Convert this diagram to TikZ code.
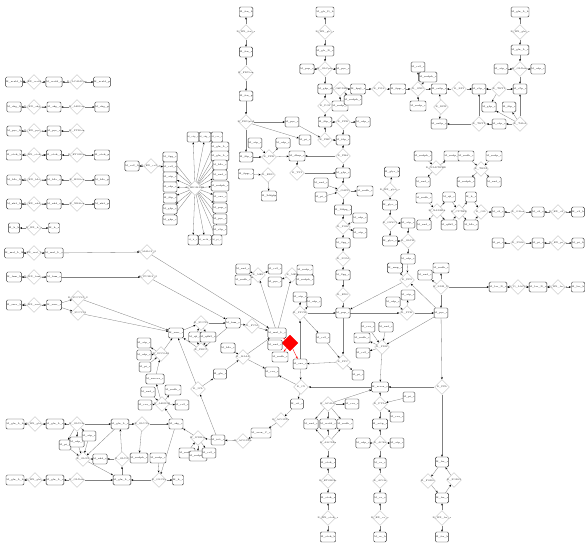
\documentclass[tikz,border=0pt]{standalone}
\usetikzlibrary{shapes.geometric,arrows.meta}
\pgfdeclarelayer{bg}
\pgfsetlayers{bg,main}
\tikzset{
  lbl/.style={font=\fontsize{2.3}{2.6}\selectfont, inner sep=0pt, text=black!85},
  met/.style={draw=black!80, rounded corners=1.3pt, minimum width=11pt, minimum height=10pt, inner sep=0.3pt, line width=0.45pt, fill=white, font=\fontsize{2.3}{2.6}\selectfont},
  sm/.style={minimum width=10pt, font=\fontsize{1.9}{2.2}\selectfont},
  rxn/.style={diamond, draw=black!25, minimum width=15pt, minimum height=15pt, inner sep=0pt, line width=0.35pt, fill=white},
  hot/.style={diamond, draw=red, fill=red, minimum width=16pt, minimum height=16pt, inner sep=0pt},
  e/.style={draw=black!50, line width=0.3pt, -{Stealth[length=2.2pt,width=1.8pt,black]}},
  er/.style={draw=red, line width=0.35pt, -{Stealth[length=2.2pt,width=1.8pt,red]}},
}
\newcommand\Mx[3]{\node[met] (#1) at (#2) {#3};}
\newcommand\Ms[3]{\node[met,sm] (#1) at (#2) {#3};}
\newcommand\Rx[3]{\node[rxn,label={[lbl]center:#3}] (#1) at (#2) {};}
\newcommand\Ed[2]{\draw[e] (#1) -- (#2);}
\newcommand\Er[2]{\draw[er] (#1) -- (#2);}
\begin{document}
\catcode`\_=12
\begin{tikzpicture}[x=1pt,y=-1pt]
\useasboundingbox (0,0) rectangle (586,550);
% ---------- left exchange rows
\Mx{a1}{14,82}{M_acald_b}\Rx{a2}{34,82}{R_EX_acald_e}\Mx{a3}{54,82}{M_acald_e}\Rx{a4}{77,82}{R_ACALDtex}\Mx{a5}{102,82}{M_acald_p}
\Mx{b1}{14,107}{M_akg_b}\Rx{b2}{34,107}{R_EX_akg_e}\Mx{b3}{54,107}{M_akg_e}\Rx{b4}{77,107}{R_AKGtex}\Mx{b5}{102,107}{M_akg_p}
\Mx{c1}{14,131}{M_pyr_b}\Rx{c2}{34,131}{R_EX_pyr_e}\Mx{c3}{54,131}{M_pyr_e}\Rx{c4}{77,131}{R_PYRtex}
\Mx{d1}{14,155}{M_etoh_b}\Rx{d2}{34,155}{R_EX_etoh_e}\Mx{d3}{54,155}{M_etoh_e}\Rx{d4}{77,155}{R_ETOHtex}\Mx{d5}{102,155}{M_etoh_p}
\Mx{f1}{14,180}{M_h2o_b}\Rx{f2}{34,180}{R_EX_h2o_e}\Mx{f3}{54,180}{M_h2o_e}\Rx{f4}{77,180}{R_H2Otex}\Mx{f5}{102,180}{M_h2o_p}
\Mx{g1}{14,204}{M_nh4_b}\Rx{g2}{34,204}{R_EX_nh4_e}\Mx{g3}{54,204}{M_nh4_e}\Rx{g4}{77,204}{R_NH4tex}\Mx{g5}{102,204}{M_nh4_p}
\Mx{h1}{14,228}{M_h_b}\Rx{h2}{34,228}{R_EX_h_e}\Mx{h3}{54,228}{M_h_e}
\Mx{i1}{14,253}{M_mal_L_b}\Rx{i2}{34,253}{R_EX_mal_L_e}\Mx{i3}{54,253}{M_mal_L_e}\Rx{i4}{147,252}{R_MALt2_2}
\Mx{j1}{14,277}{M_fum_b}\Rx{j2}{34,277}{R_EX_fum_e}\Mx{j3}{54,277}{M_fum_e}\Rx{j4}{148,277}{R_FUMt2_2}
\Mx{k1}{14,305}{M_succ_b}\Rx{k2}{34,305}{R_EX_succ_e}\Mx{k3}{54,305}{M_succ_e}\Rx{k4}{78,298}{R_SUCCt2_2}\Rx{k5}{78,313}{R_SUCCt3}
\Mx{co1}{132,166}{M_co2_b}\Rx{co2}{151,166}{R_EX_co2_e}
% ---------- biomass hub
\Rx{hub}{195,188}{R_BIOMASS}
\Mx{hl1}{170,157}{M_3pg_c}\Mx{hl2}{170,167}{M_co2_e}\Mx{hl3}{170,177}{M_atp_c}\Mx{hl4}{170,187}{M_e4p_c}
\Mx{hl5}{170,198}{M_f6p_c}\Mx{hl6}{170,209}{M_g3p_c}\Mx{hl7}{170,220}{M_g6p_c}
\Mx{hr1}{220,147}{M_gln_L_c}\Mx{hr2}{220,156}{M_glu_L_c}\Mx{hr3}{220,165}{M_h2o_c}\Mx{hr4}{220,175}{M_nad_c}
\Mx{hr5}{220,186}{M_nadph_c}\Mx{hr6}{220,197}{M_oaa_c}\Mx{hr7}{220,208}{M_pep_c}\Mx{hr8}{220,219}{M_pyr_c}\Mx{hr9}{220,230}{M_r5p_c}
\Ms{ht1}{193,137}{M_adp_c}\Ms{ht2}{205,137}{M_akg_c}\Ms{ht3}{217,137}{M_coa_c}
\Ms{hb1}{193,240}{M_h_c}\Ms{hb2}{205,240}{M_nadh_c}\Ms{hb3}{217,240}{M_pi_c}
% ---------- column x=246
\Mx{t1}{246,12}{M_fru_b}\Rx{t2}{246,32}{R_EX_fru_e}\Mx{t3}{246,52}{M_fru_e}\Rx{t4}{246,73}{R_FRUtex}
\Mx{t5}{246,96}{M_fru_p}\Rx{t6}{246,122}{R_FRUpts2}\Mx{t6a}{292,122}{M_pyr_c}
\Mx{t7}{246,157}{M_f6p_c}\Rx{t8}{269,157}{R_PFK}\Mx{t8a}{255,143}{M_atp_c}\Mx{t8b}{283,143}{M_adp_c}
\Mx{dhap}{297,156}{M_dhap_c}\Mx{t10}{246,174}{M_6pgc_c}\Rx{t11}{268,175}{R_EDD}\Mx{t12}{269,196}{M_2ddg6p}
\Rx{tpi}{297,173}{R_TPI}
% ---------- column x=325
\Mx{p1}{325,12}{M_glc_D_b}\Rx{p2}{325,32}{R_EX_glc_e}\Mx{p3}{325,51}{M_glc_D_e}\Rx{p4}{325,69}{R_GLCpts}
\Mx{p4a}{307,69}{M_pep_c}\Mx{p4b}{343,69}{M_pyr_c}
\Mx{g6p}{325,89}{M_g6p_c}\Rx{g6pdh}{340,89}{R_G6PDH2r}\Mx{nadpa}{340,106}{M_nadp_c}\Mx{nadpha}{353,100}{M_nadph_c}
\Mx{pgla}{358,89}{M_6pgl_c}\Rx{pgl}{379,89}{R_PGL}\Mx{pgcb}{398,89}{M_6pgc_c}\Rx{gnd}{418,89}{R_GND}
\Mx{co2a}{418,67}{M_co2_c}\Mx{nadphb}{428,77}{M_nadph_c}\Mx{nadpb}{418,106}{M_nadp_c}
\Rx{pgi}{325,106}{R_PGI}\Mx{f6p}{325,122}{M_f6p_c}\Rx{pfk}{343,122}{R_PFK}\Mx{adpa}{363,122}{M_adp_c}
\Mx{fdp}{343,140}{M_fdp_c}\Rx{fbp}{325,140}{R_FBP}\Mx{pia}{305,140}{M_pi_c}
\Rx{fba}{343,156}{R_FBA}\Mx{g3p}{343,173}{M_g3p_c}
\Rx{gapd}{343,191}{R_GAPD}\Mx{nadc}{321,183}{M_nad_c}\Mx{pic}{321,197}{M_pi_c}\Mx{nadhc}{365,191}{M_nadh_c}
\Mx{dpg}{343,210}{M_13dpg_c}\Rx{pgk}{343,227}{R_PGK}\Mx{adpb}{360,218}{M_adp_c}\Mx{atpb}{360,233}{M_atp_c}
\Mx{pg3}{343,243}{M_3pg_c}\Rx{pgm}{343,259}{R_PGM}\Mx{pg2}{343,275}{M_2pg_c}\Rx{eno}{343,295}{R_ENO}\Mx{pep}{343,313}{M_pep_c}
% ---------- right top
\Mx{q1}{520,12}{M_gln_L_b}\Rx{q2}{520,32}{R_EX_gln_e}\Mx{q3}{520,50}{M_gln_L_e}\Rx{q4}{520,69}{R_GLNabc}
\Mx{q4a}{501,69}{M_atp_c}\Mx{q4b}{538,69}{M_adp_c}\Mx{q5}{520,89}{M_s7p_c}
\Mx{ru5p}{439,89}{M_ru5p_c}\Rx{rpi}{459,89}{R_RPI}\Mx{r5p}{479,89}{M_r5p_c}\Rx{tkt1}{499,89}{R_TKT1}
\Rx{rpe}{441,107}{R_RPE}\Mx{xu5p}{439,124}{M_xu5p_c}\Rx{tkt2}{479,124}{R_TKT2}\Mx{e4p}{499,124}{M_e4p_c}\Rx{tala}{520,124}{R_TALA}
\Mx{g3pb}{489,107}{M_g3p_c}\Mx{f6pb}{509,107}{M_f6p_c}
% ---------- right cluster
\Mx{rc1}{423,156}{M_nadph_c}\Mx{rc2}{423,182}{M_nad_c}\Rx{nadtr}{436,168}{R_NADTRHD}\Mx{rc3}{452,156}{M_nadp_c}
\Mx{rc4}{466,156}{M_nadh_c}\Mx{rc5}{494,156}{M_nadp_c}\Rx{thd}{481,169}{R_THD2}\Mx{rc6}{466,182}{M_nadph_c}\Mx{rc7}{494,182}{M_nad_c}
\Mx{rd1}{424,198}{M_nadh_c}\Mx{rd2}{424,225}{M_nad_c}\Rx{nad16}{437,211}{R_NADH16}
\Mx{rd3}{449,197}{M_q8_c}\Mx{rd4}{449,225}{M_q8h2_c}\Rx{rdx}{459,212}{R_CYTBD}
\Mx{rd5}{471,197}{M_h_c}\Mx{rd6}{471,225}{M_h2o_c}\Rx{rdy}{481,212}{R_O2t}
% ---------- right rows
\Mx{o2c}{498,212}{M_o2_c}\Rx{o2t}{518,212}{R_O2tex}\Mx{o2e}{538,212}{M_o2_e}\Rx{exo2}{558,212}{R_EX_o2_e}\Mx{o2b}{578,212}{M_o2_b}
\Mx{pic2}{498,243}{M_pi_c}\Rx{pit}{518,243}{R_PIt2r}\Mx{pie}{538,243}{M_pi_e}\Rx{expi}{558,243}{R_EX_pi_e}\Mx{pib}{578,243}{M_pi_b}
\Mx{lacc}{498,287}{M_lac_D_c}\Rx{lact}{518,287}{R_D_LACt2}\Mx{lace}{538,287}{M_lac_D_e}\Rx{exlac}{558,287}{R_EX_lac_e}\Mx{lacb}{578,287}{M_lac_b}
\Rx{ldh}{441,287}{R_LDH_D}\Mx{nadhd}{441,268}{M_nadh_c}\Mx{pyr}{441,313}{M_pyr_c}
% ---------- middle column x=390..408
\Mx{m1}{392,172}{M_glyc_b}\Rx{m2}{390,190}{R_EX_glyc_e}\Mx{m3}{390,205}{M_glyc_e}\Rx{m4}{390,223}{R_GLYCt}
\Mx{m5}{408,223}{M_atp_c}\Mx{m6}{390,241}{M_glyc_c}\Rx{m7}{408,241}{R_GLYK}\Mx{m8}{408,259}{M_adp_c}
\Rx{pps}{407,280}{R_PPS}\Mx{ampa}{395,268}{M_amp_c}\Mx{nadd}{425,275}{M_nad_c}
\Rx{pyk}{407,313}{R_PYK}\Mx{adpc}{393,302}{M_adp_c}\Mx{atpc}{408,295}{M_atp_c}
% ---------- PDH, PFL, acetate, ethanol
\Rx{pdh}{382,347}{R_PDH}\Mx{coa6}{368,327}{M_coa_c}\Mx{nad6}{386,327}{M_nad_c}\Mx{nadh6}{362,338}{M_nadh_c}\Mx{co26}{363,353}{M_co2_c}
\Rx{pfl}{442,387}{R_PFL}\Mx{accoa}{380,387}{M_accoa_c}
\Mx{forc}{442,462}{M_for_c}\Rx{fort1}{428,481}{R_FORti}\Rx{fort2}{454,480}{R_FORt2}\Mx{fore}{442,498}{M_for_e}\Rx{exfor}{442,518}{R_EX_for_e}\Mx{forb}{442,537}{M_for_b}
\Rx{pta}{380,404}{R_PTAr}\Mx{pi4}{409,397}{M_pi_c}\Mx{coa4}{397,417}{M_coa_c}\Mx{actp}{380,424}{M_actp_c}
\Rx{ack}{380,443}{R_ACKr}\Mx{adp4}{363,443}{M_adp_c}\Mx{atp4}{397,443}{M_atp_c}\Mx{acc}{380,463}{M_ac_c}
\Rx{act}{380,481}{R_ACt2r}\Mx{ace}{380,498}{M_ac_e}\Rx{exac}{380,518}{R_EX_ac_e}\Mx{acb}{380,537}{M_ac_b}
\Rx{acald}{328,404}{R_ACALD}\Mx{coa5}{352,404}{M_coa_c}\Mx{nad5}{311,424}{M_nad_c}\Mx{acaldc}{328,424}{M_acald_c}\Mx{nadh5}{345,424}{M_nadh_c}
\Rx{alcd}{328,443}{R_ALCD2x}\Mx{etohc}{328,463}{M_etoh_c}\Rx{etoht}{328,481}{R_ETOHt2r}\Mx{etohe}{328,498}{M_etoh_e}\Rx{exetoh}{328,518}{R_EX_etoh_e}\Mx{etohb}{328,537}{M_etoh_b}
% ---------- PPCK, PPC, TCA
\Rx{ppck}{300,313}{R_PPCK}\Mx{atp8}{300,297}{M_atp_c}\Mx{adp8}{314,302}{M_adp_c}\Mx{co28}{323,338}{M_co2_c}
\Rx{ppc}{343,362}{R_PPC}\Mx{pi9}{358,375}{M_pi_c}
\Mx{oaa}{300,364}{M_oaa_c}\Rx{cs}{301,387}{R_CS}\Mx{cit}{297,404}{M_cit_c}\Rx{acona}{281,420}{R_ACONTa}
\Mx{acon}{261,433}{M_acon_C_c}\Rx{acontb}{243,441}{R_ACONTb}\Mx{icit}{218,440}{M_icit_c}
\Rx{icd}{198,438}{R_ICDHyr}\Mx{nadp10}{187,453}{M_nadp_c}\Mx{nadph10}{198,456}{M_nadph_c}\Mx{co210}{209,453}{M_co2_c}
\Mx{akg}{176,424}{M_akg_c}\Rx{akgdh}{162,404}{R_AKGDH}\Mx{nad11}{148,392}{M_nad_c}\Mx{coa11}{145,405}{M_coa_c}
\Mx{nadh11}{173,390}{M_nadh_c}\Mx{co211}{182,405}{M_co2_c}\Mx{succoa}{155,379}{M_succoa_c}
\Rx{sucoas}{161,354}{R_SUCOAS}\Mx{atp12}{144,343}{M_atp_c}\Mx{adp12}{144,355}{M_adp_c}\Mx{pi12}{145,367}{M_pi_c}
\Mx{succ}{176,333}{M_succ_c}\Rx{sucdi}{201,323}{R_SUCDi}\Rx{frd}{201,350}{R_FRD7}\Mx{q8}{195,337}{M_q8_c}\Mx{q8h2}{208,337}{M_q8h2_c}
\Mx{fum}{233,323}{M_fum_c}\Rx{fumr}{252,326}{R_FUM}\Mx{mal}{277,333}{M_mal_L_c}
\node[hot] (mdh) at (290,343) {};
\Mx{nad13}{275,345}{M_nad_c}\Mx{nadh13}{280,357}{M_nadh_c}
\Mx{h2o14}{228,348}{M_h2o_c}\Rx{mals}{243,357}{R_MALS}\Mx{coa14}{272,372}{M_coa_c}
\Rx{icl}{198,389}{R_ICL}\Mx{glx}{220,374}{M_glx_c}
\Rx{me1}{258,275}{R_ME1}\Rx{me2}{292,275}{R_ME2}\Mx{nad15}{243,269}{M_nad_c}\Mx{nadh15}{243,280}{M_nadh_c}
\Mx{co215}{275,269}{M_co2_c}\Mx{pyr15}{275,282}{M_pyr_c}\Mx{nadp15}{305,270}{M_nadp_c}\Mx{nadph15}{305,280}{M_nadph_c}
% ---------- lower left
\Mx{u1}{15,424}{M_glu_L_b}\Rx{u2}{35,424}{R_EX_glu_e}\Mx{u3}{55,424}{M_glu_L_e}\Rx{u4}{77,424}{R_GLUt2r}\Mx{u5}{120,424}{M_glu_L_c}\Rx{u6}{142,424}{R_GLUDy}
\Mx{v1}{15,480}{M_gln_L_b}\Rx{v2}{35,480}{R_EX_gln_e}\Mx{v3}{55,480}{M_gln_L_e}\Rx{v4}{77,480}{R_GLNabc}\Mx{v5}{122,480}{M_gln_L_c}
\Mx{w1}{65,445}{M_pi_c}\Mx{w2}{77,442}{M_adp_c}\Mx{w3}{89,436}{M_atp_c}
\Rx{w4}{83,459}{R_GLNS}\Mx{w5}{100,459}{M_nh4_c}\Rx{w6}{122,459}{R_GLUN}
\Mx{w7}{139,458}{M_nadph_c}\Mx{w8}{158,458}{M_nadp_c}\Rx{w9}{159,480}{R_GLUSy}\Mx{w10}{178,480}{M_h_c}
\begin{pgfonlayer}{bg}
\fill[white] (0,0) rectangle (586,550);
% left rows
\Ed{a2}{a1}\Ed{a2}{a3}\Ed{a4}{a3}\Ed{a4}{a5}
\Ed{b2}{b1}\Ed{b2}{b3}\Ed{b4}{b3}\Ed{b4}{b5}
\Ed{c2}{c1}\Ed{c2}{c3}\Ed{c4}{c3}
\Ed{d2}{d1}\Ed{d2}{d3}\Ed{d4}{d3}\Ed{d4}{d5}
\Ed{f2}{f1}\Ed{f2}{f3}\Ed{f4}{f3}\Ed{f4}{f5}
\Ed{g2}{g1}\Ed{g2}{g3}\Ed{g4}{g3}\Ed{g4}{g5}
\Ed{h2}{h1}\Ed{h2}{h3}
\Ed{i2}{i1}\Ed{i2}{i3}\Ed{i3}{i4}\Ed{i4}{mal}
\Ed{j2}{j1}\Ed{j2}{j3}\Ed{j3}{j4}\Ed{j4}{fum}
\Ed{k2}{k1}\Ed{k2}{k3}\Ed{k3}{k4}\Ed{k3}{k5}\Ed{k4}{succ}\Ed{k5}{succ}
\Ed{co2}{co1}\Ed{co2}{hl2}
% hub
\foreach \n in {hl1,hl2,hl3,hl4,hl5,hl6,hl7,hr1,hr2,hr3,hr4,hr5,hr6,hr7,hr8,hr9,ht1,ht2,ht3,hb1,hb2,hb3} {\draw[e] (hub) -- (\n);}
% x=246
\Ed{t2}{t1}\Ed{t2}{t3}\Ed{t4}{t3}\Ed{t4}{t5}\Ed{t5}{t6}\Ed{t6}{t7}\Ed{t6}{t6a}\Ed{t6}{pia}
\Ed{t7}{t8}\Ed{t8a}{t8}\Ed{t8}{t8b}\Ed{t8}{dhap}\Ed{t10}{t11}\Ed{t11}{t12}
\Ed{dhap}{tpi}\Ed{tpi}{g3p}\Ed{fba}{dhap}\Ed{fba}{g3p}\Ed{fdp}{fba}
% x=325
\Ed{p2}{p1}\Ed{p2}{p3}\Ed{p3}{p4}\Ed{p4a}{p4}\Ed{p4}{p4b}\Ed{p4}{g6p}
\Ed{g6p}{g6pdh}\Ed{g6pdh}{pgla}\Ed{nadpa}{g6pdh}\Ed{g6pdh}{nadpha}\Ed{pgla}{pgl}\Ed{pgl}{pgcb}\Ed{pgcb}{gnd}
\Ed{gnd}{co2a}\Ed{gnd}{nadphb}\Ed{nadpb}{gnd}\Ed{gnd}{ru5p}
\Ed{g6p}{pgi}\Ed{pgi}{f6p}\Ed{f6p}{pfk}\Ed{pfk}{adpa}\Ed{pfk}{fdp}\Ed{fdp}{fbp}\Ed{fbp}{f6p}\Ed{t6a}{fbp}
\Ed{g3p}{gapd}\Ed{nadc}{gapd}\Ed{pic}{gapd}\Ed{gapd}{nadhc}\Ed{gapd}{dpg}\Ed{dpg}{pgk}\Ed{adpb}{pgk}\Ed{pgk}{atpb}\Ed{pgk}{pg3}
\Ed{pg3}{pgm}\Ed{pgm}{pg2}\Ed{pg2}{eno}\Ed{eno}{pep}
% right top
\Ed{q2}{q1}\Ed{q2}{q3}\Ed{q3}{q4}\Ed{q4a}{q4}\Ed{q4}{q4b}\Ed{q4}{q5}
\Ed{rpi}{ru5p}\Ed{rpi}{r5p}\Ed{tkt1}{r5p}\Ed{tkt1}{q5}\Ed{rpe}{ru5p}\Ed{rpe}{xu5p}\Ed{tkt2}{xu5p}\Ed{tkt2}{r5p}
\Ed{e4p}{tkt2}\Ed{tala}{e4p}\Ed{tala}{q5}\Ed{tkt1}{g3pb}\Ed{tala}{f6pb}\Ed{tala}{g3pb}
% right cluster
\Ed{rc1}{nadtr}\Ed{nadtr}{rc2}\Ed{nadtr}{rc3}\Ed{rc4}{thd}\Ed{rc5}{thd}\Ed{thd}{rc6}\Ed{thd}{rc7}
\Ed{rd1}{nad16}\Ed{nad16}{rd2}\Ed{nad16}{rd3}\Ed{nad16}{rd4}\Ed{rd3}{rdx}\Ed{rd4}{rdx}\Ed{rdx}{rd5}\Ed{rdx}{rd6}
\Ed{rd5}{rdy}\Ed{rd6}{rdy}\Ed{rdy}{o2c}
% right rows
\Ed{o2t}{o2c}\Ed{o2t}{o2e}\Ed{exo2}{o2e}\Ed{exo2}{o2b}
\Ed{pit}{pic2}\Ed{pit}{pie}\Ed{expi}{pie}\Ed{expi}{pib}
\Ed{lact}{lacc}\Ed{lact}{lace}\Ed{exlac}{lace}\Ed{exlac}{lacb}
\Ed{ldh}{nadhd}\Ed{ldh}{pyr}\Ed{ldh}{lacc}\Ed{ldh}{nadd}
% middle column
\Ed{m2}{m1}\Ed{m2}{m3}\Ed{m3}{m4}\Ed{m4}{m5}\Ed{m4}{m6}\Ed{m6}{m7}\Ed{m5}{m7}\Ed{m7}{m8}
\Ed{pyr}{pps}\Ed{pps}{pep}\Ed{pps}{ampa}\Ed{m8}{pps}
\Ed{pep}{pyk}\Ed{adpc}{pyk}\Ed{pyk}{atpc}\Ed{pyk}{pyr}
% PDH PFL
\Ed{pyr}{pdh}\Ed{pdh}{accoa}\Ed{coa6}{pdh}\Ed{nad6}{pdh}\Ed{pdh}{nadh6}\Ed{pdh}{co26}
\Ed{pyr}{pfl}\Ed{pfl}{accoa}\Ed{pfl}{forc}
\Ed{forc}{fort1}\Ed{fort1}{fore}\Ed{fore}{fort2}\Ed{fort2}{forc}\Ed{exfor}{fore}\Ed{exfor}{forb}
\Ed{pta}{accoa}\Ed{pta}{actp}\Ed{pi4}{pta}\Ed{pta}{coa4}\Ed{ack}{actp}\Ed{ack}{acc}\Ed{ack}{atp4}\Ed{adp4}{ack}
\Ed{act}{acc}\Ed{act}{ace}\Ed{exac}{ace}\Ed{exac}{acb}
\Ed{acald}{accoa}\Ed{acald}{coa5}\Ed{acald}{nad5}\Ed{acald}{acaldc}\Ed{acald}{nadh5}
\Ed{alcd}{nad5}\Ed{alcd}{acaldc}\Ed{alcd}{nadh5}\Ed{alcd}{etohc}
\Ed{etoht}{etohc}\Ed{etoht}{etohe}\Ed{exetoh}{etohe}\Ed{exetoh}{etohb}
% PPCK PPC TCA
\Ed{oaa}{ppck}\Ed{atp8}{ppck}\Ed{ppck}{adp8}\Ed{ppck}{pep}\Ed{ppck}{co28}
\Ed{pep}{ppc}\Ed{co28}{ppc}\Ed{ppc}{oaa}\Ed{ppc}{pi9}
\Ed{oaa}{cs}\Ed{accoa}{cs}\Ed{cs}{cit}\Ed{cs}{coa14}
\Ed{cit}{acona}\Ed{acona}{acon}\Ed{acon}{acontb}\Ed{acontb}{icit}
\Ed{icit}{icd}\Ed{icd}{akg}\Ed{nadp10}{icd}\Ed{icd}{nadph10}\Ed{icd}{co210}
\Ed{akg}{akgdh}\Ed{akgdh}{succoa}\Ed{nad11}{akgdh}\Ed{coa11}{akgdh}\Ed{akgdh}{nadh11}\Ed{akgdh}{co211}
\Ed{succoa}{sucoas}\Ed{sucoas}{succ}\Ed{adp12}{sucoas}\Ed{pi12}{sucoas}\Ed{sucoas}{atp12}
\Ed{succ}{sucdi}\Ed{sucdi}{fum}\Ed{q8}{sucdi}\Ed{sucdi}{q8h2}\Ed{fum}{frd}\Ed{frd}{succ}\Ed{q8h2}{frd}\Ed{frd}{q8}
\Ed{fum}{fumr}\Ed{fumr}{mal}
\Er{mal}{mdh}\Er{nad13}{mdh}\Er{mdh}{oaa}\Er{mdh}{nadh13}
\Ed{icit}{icl}\Ed{icl}{glx}\Ed{icl}{succ}\Ed{glx}{mals}\Ed{h2o14}{mals}\Ed{mals}{coa14}\Ed{mals}{mal}
\Ed{mal}{me1}\Ed{mal}{me2}\Ed{nad15}{me1}\Ed{me1}{nadh15}\Ed{me1}{co215}\Ed{me2}{pyr15}\Ed{nadp15}{me2}\Ed{me2}{nadph15}
% lower left
\Ed{u2}{u1}\Ed{u2}{u3}\Ed{u4}{u3}\Ed{u4}{u5}\Ed{u5}{u6}\Ed{u6}{akg}\Ed{u6}{w7}
\Ed{v2}{v1}\Ed{v2}{v3}\Ed{v4}{v3}\Ed{v4}{v5}
\Ed{u4}{w1}\Ed{u4}{w2}\Ed{u4}{w3}\Ed{w1}{w4}\Ed{w2}{w4}\Ed{w3}{w4}
\Ed{u5}{w4}\Ed{w4}{v5}\Ed{w5}{w4}\Ed{w6}{w5}\Ed{v5}{w6}\Ed{w6}{u5}
\Ed{w8}{w9}\Ed{w9}{v5}\Ed{akg}{w9}\Ed{w9}{w10}
\end{pgfonlayer}
\end{tikzpicture}
\end{document}
